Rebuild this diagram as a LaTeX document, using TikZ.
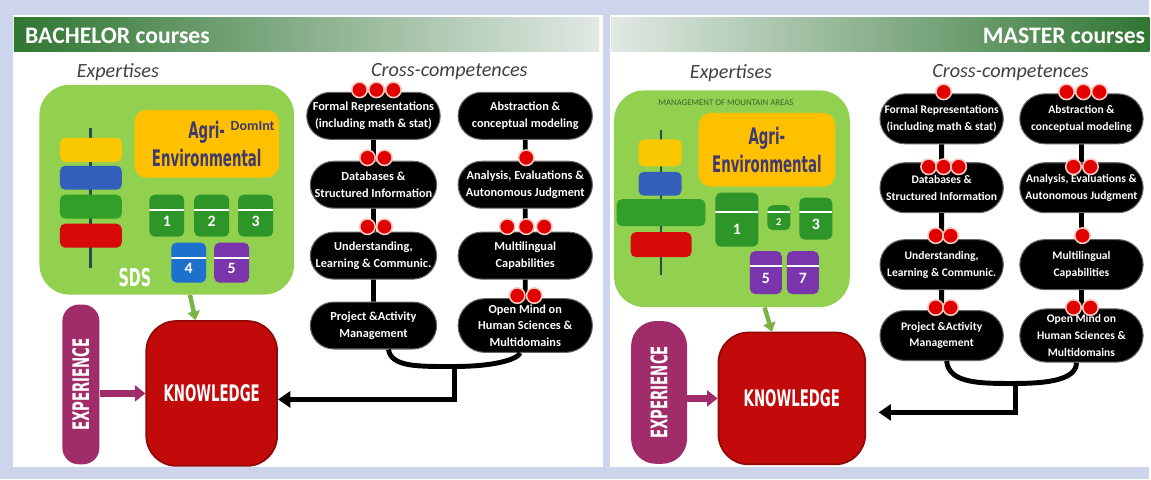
\documentclass[tikz,border=0pt]{standalone}
\usepackage{fontspec}
\setmainfont{Carlito}
\newfontfamily\impactfont{DejaVu Sans Condensed Bold}[FakeStretch=0.65]
\usepackage{xcolor}
\usepackage{tikz}
\usetikzlibrary{arrows.meta, positioning, shapes.misc}

\definecolor{pagebg}{RGB}{204,213,236}
\definecolor{bandark}{RGB}{48,118,50}
\definecolor{banlight}{RGB}{225,233,228}
\definecolor{expgreen}{RGB}{146,208,80}
\definecolor{agriyellow}{RGB}{255,192,0}
\definecolor{agritext}{RGB}{62,58,112}
\definecolor{tabgreen}{RGB}{46,150,40}
\definecolor{tabblue}{RGB}{30,112,205}
\definecolor{tabpurple}{RGB}{122,52,172}
\definecolor{baryellow}{RGB}{250,200,0}
\definecolor{barblue}{RGB}{52,96,188}
\definecolor{bargreen}{RGB}{50,160,40}
\definecolor{barred}{RGB}{215,10,10}
\definecolor{spinegray}{RGB}{45,75,75}
\definecolor{dotred}{RGB}{225,0,0}
\definecolor{dotring}{RGB}{250,200,190}
\definecolor{expurple}{RGB}{160,45,105}
\definecolor{knowred}{RGB}{195,10,10}
\definecolor{headgray}{RGB}{64,64,70}
\definecolor{mgmtgreen}{RGB}{55,105,40}

\begin{document}
\begin{tikzpicture}[x=0.02cm, y=-0.02cm,
    every node/.style={font=\small},
    pill/.style={rounded rectangle, fill=black, draw=black!60, line width=0.6pt, text=white, align=center,
        minimum height=0.94cm, inner xsep=1pt, font=\fontsize{7}{9.5}\selectfont\bfseries},
    mpill/.style={pill, minimum width=2.54cm, minimum height=1cm, font=\fontsize{6.6}{9.5}\selectfont\bfseries},
    reddot/.style={circle, fill=dotred, draw=dotring, line width=0.9pt, minimum size=0.31cm, inner sep=0pt},
    link/.style={line width=2.8pt, black},
    heading/.style={text=headgray, font=\fontsize{11.5}{13}\selectfont\itshape},
    expbox/.style={fill=expgreen, rounded corners=0.6cm},
    agribox/.style={fill=agriyellow, rounded corners=0.25cm, text=agritext, align=center,
        font=\impactfont\fontsize{13}{16}\selectfont},
    bar/.style={rounded corners=3pt, minimum height=0.48cm, inner sep=0pt},
    tab/.style={rounded corners=3pt, text=white, inner sep=0pt, text height=0.42cm,
        font=\bfseries\fontsize{9}{9}\selectfont,
        path picture={\draw[white, line width=1pt]
            ([yshift=-#1]path picture bounding box.north west) --
            ([yshift=-#1]path picture bounding box.north east);}},
    bigword/.style={text=white, font=\impactfont\fontsize{13}{15}\selectfont},
    expr/.style={fill=expurple, rounded corners=0.33cm, inner sep=0pt},
    know/.style={fill=knowred, draw=knowred!75!black, line width=1pt, rounded corners=0.6cm},
    down/.style={draw=expgreen!85!black, line width=2.5pt, -{Triangle[length=5pt, width=7pt]}},
    into/.style={draw=expurple, line width=3.5pt, -{Triangle[length=6pt, width=9pt]}}]

    % Page and panels
    \fill[pagebg] (0,0) rectangle (1151,480);
    \fill[white] (13,15) rectangle (604,468);
    \fill[white] (611,15) rectangle (1151,468);
    \shade[left color=bandark, right color=banlight] (14,18) rectangle (600,52);
    \shade[left color=banlight, right color=bandark] (612,18) rectangle (1151,52);
    \node[anchor=west, text=white, font=\bfseries\fontsize{13.5}{15}\selectfont] (bachelor) at (19,36) {BACHELOR courses};
    \node[anchor=east, text=white, font=\bfseries\fontsize{13.5}{15}\selectfont] (master) at (1153,36) {MASTER courses};

    % ---------------- BACHELOR ----------------
    \node[heading] (bexphead) at (118,72) {Expertises};
    \node[heading] (bcrosshead) at (450,72) {Cross-competences};

    % Expertise block
    \node[expbox, minimum width=5.1cm, minimum height=4.2cm] (bexp) at (167,190) {};
    \draw[spinegray, line width=1.6pt] (91,128) -- (91,268);
    \node[bar, fill=baryellow, minimum width=1.24cm] (bbar1) at (91,150) {};
    \node[bar, fill=barblue, minimum width=1.24cm] (bbar2) at (91,178) {};
    \node[bar, fill=bargreen, minimum width=1.24cm] (bbar3) at (91,207) {};
    \node[bar, fill=barred, minimum width=1.24cm] (bbar4) at (91,236) {};
    \node[agribox, minimum width=2.9cm, minimum height=1.36cm] (bagri) at (207,144) {Agri-\\Environmental};
    \node[text=agritext, font=\bfseries\fontsize{8}{9}\selectfont] (bdomint) at (253,126) {DomInt};
    \node[tab=0.3cm, fill=tabgreen, minimum width=0.7cm, minimum height=0.84cm] (btab1) at (167,216) {1};
    \node[tab=0.3cm, fill=tabgreen, minimum width=0.7cm, minimum height=0.84cm] (btab2) at (212,216) {2};
    \node[tab=0.3cm, fill=tabgreen, minimum width=0.7cm, minimum height=0.84cm] (btab3) at (256,216) {3};
    \node[tab=0.3cm, fill=tabblue, minimum width=0.7cm, minimum height=0.8cm] (btab4) at (189,263) {4};
    \node[tab=0.3cm, fill=tabpurple, minimum width=0.7cm, minimum height=0.8cm] (btab5) at (232,263) {5};
    \node[bigword, font=\impactfont\fontsize{14}{15}\selectfont] (bsds) at (135,278) {SDS};

    % Experience and knowledge
    \node[expr, minimum width=0.74cm, minimum height=3.2cm] (bexpr) at (81,385) {\rotatebox{90}{\impactfont\fontsize{13}{15}\selectfont\color{white}EXPERIENCE}};
    \node[know, minimum width=2.62cm, minimum height=2.9cm] (bknow) at (212,394) {};
    \node[bigword] (bknowtxt) at (bknow) {KNOWLEDGE};
    \draw[down] (bexp) -- (bknow);
    \draw[into] (bexpr.east |- bknow) -- (bknow.west);

    % Cross-competences
    \node[pill, minimum width=2.6cm] (bformal) at (374,116) {Formal Representations\\(including math \& stat)};
    \node[pill, minimum width=2.6cm] (bdata) at (374,185) {Databases \&\\Structured Information};
    \node[pill, minimum width=2.6cm] (bunder) at (374,256) {Understanding,\\Learning \& Communic.};
    \node[pill, minimum width=2.6cm] (bproj) at (374,326) {Project \&Activity\\Management};
    \node[pill, minimum width=2.76cm] (babstr) at (526,116) {Abstraction \&\\conceptual modeling};
    \node[pill, minimum width=2.76cm] (banaly) at (526,185) {Analysis, Evaluations \&\\Autonomous Judgment};
    \node[pill, minimum width=2.76cm] (bmulti) at (526,256) {Multilingual\\Capabilities};
    \node[pill, minimum width=2.76cm] (bopen) at (526,326) {Open Mind on\\Human Sciences \&\\Multidomains};
    \draw[link] (bformal) -- (bdata);
    \draw[link] (bdata) -- (bunder);
    \draw[link] (bunder) -- (bproj);
    \draw[link] (babstr) -- (banaly);
    \draw[link] (banaly) -- (bmulti);
    \draw[link] (bmulti) -- (bopen);
    \foreach \x [count=\k] in {360,377,394} \node[reddot] (bformal-d\k) at (\x,90) {};
    \foreach \x [count=\k] in {368,385} \node[reddot] (bdata-d\k) at (\x,158) {};
    \foreach \x [count=\k] in {368,385} \node[reddot] (bunder-d\k) at (\x,227) {};
    \node[reddot] (banaly-d1) at (527,158) {};
    \foreach \x [count=\k] in {508,527,545} \node[reddot] (bmulti-d\k) at (\x,227) {};
    \foreach \x [count=\k] in {518,535} \node[reddot] (bopen-d\k) at (\x,296) {};

    % Back to knowledge
    \coordinate (bjoin) at (455,367);
    \draw[link] ([xshift=0.3cm]bproj.south) .. controls (392,368) and (420,367) .. (bjoin) .. controls (495,367) and (518,360) .. ([xshift=-0.1cm]bopen.south);
    \draw[link, -{Triangle[length=7pt, width=9pt]}] (bjoin) |- ([yshift=-0.12cm]bknow.east);

    % ---------------- MASTER ----------------
    \node[heading] (mexphead) at (732,73) {Expertises};
    \node[heading] (mcrosshead) at (1012,73) {Cross-competences};

    % Expertise block
    \node[expbox, minimum width=4.72cm, minimum height=4.34cm] (mexp) at (733,199) {};
    \node[text=mgmtgreen, font=\fontsize{5}{6}\selectfont] (mmgmt) at (727,103) {MANAGEMENT OF MOUNTAIN AREAS};
    \draw[spinegray, line width=1.6pt] (662,130) -- (662,275);
    \node[bar, fill=baryellow, minimum width=0.86cm, minimum height=0.54cm] (mbar1) at (661,153) {};
    \node[bar, fill=barblue, minimum width=0.86cm, minimum height=0.48cm] (mbar2) at (661,184) {};
    \node[bar, fill=bargreen, minimum width=1.78cm, minimum height=0.54cm] (mbar3) at (662,213) {};
    \node[bar, fill=barred, minimum width=1.22cm, minimum height=0.5cm] (mbar4) at (662,245) {};
    \node[agribox, minimum width=2.74cm, minimum height=1.48cm] (magri) at (768,150) {Agri-\\Environmental};
    \node[tab=0.38cm, fill=tabgreen, minimum width=0.86cm, minimum height=1.08cm, text height=0.6cm] (mtab1) at (738,220) {1};
    \node[tab=0.14cm, fill=tabgreen, minimum width=0.46cm, minimum height=0.5cm, text height=0.3cm, font=\bfseries\fontsize{6}{6}\selectfont] (mtab2) at (780,218) {2};
    \node[tab=0.28cm, fill=tabgreen, minimum width=0.66cm, minimum height=0.84cm] (mtab3) at (817,219) {3};
    \node[tab=0.3cm, fill=tabpurple, minimum width=0.64cm, minimum height=0.86cm] (mtab5) at (767,273) {5};
    \node[tab=0.3cm, fill=tabpurple, minimum width=0.64cm, minimum height=0.86cm] (mtab7) at (804,273) {7};

    % Experience and knowledge
    \node[expr, minimum width=1.12cm, minimum height=2.86cm, rounded corners=0.5cm] (mexpr) at (660,393) {\rotatebox{90}{\impactfont\fontsize{13}{15}\selectfont\color{white}EXPERIENCE}};
    \node[know, minimum width=2.94cm, minimum height=2.64cm] (mknow) at (793,399) {};
    \node[bigword] (mknowtxt) at (mknow) {KNOWLEDGE};
    \draw[down] (mexp) -- (mknow);
    \draw[into] (mexpr.east |- mknow) -- (mknow.west);

    % Cross-competences
    \node[mpill] (mformal) at (943,119) {Formal Representations\\(including math \& stat)};
    \node[mpill] (mdata) at (943,188) {Databases \&\\Structured Information};
    \node[mpill] (munder) at (943,265) {Understanding,\\Learning \& Communic.};
    \node[mpill] (mproj) at (943,336) {Project \&Activity\\Management};
    \node[mpill] (mabstr) at (1083,119) {Abstraction \&\\conceptual modeling};
    \node[mpill] (manaly) at (1083,188) {Analysis, Evaluations \&\\Autonomous Judgment};
    \node[mpill] (mmulti) at (1083,265) {Multilingual\\Capabilities};
    \node[mpill] (mopen) at (1083,336) {Open Mind on\\Human Sciences \&\\Multidomains};
    \draw[link] (mformal) -- (mdata);
    \draw[link] (mdata) -- (munder);
    \draw[link] (munder) -- (mproj);
    \draw[link] (mabstr) -- (manaly);
    \draw[link] (manaly) -- (mmulti);
    \draw[link] (mmulti) -- (mopen);
    \node[reddot] (mformal-d1) at (945,92) {};
    \foreach \x [count=\k] in {1068,1085,1101} \node[reddot] (mabstr-d\k) at (\x,92) {};
    \foreach \x [count=\k] in {930,945,960} \node[reddot] (mdata-d\k) at (\x,167) {};
    \foreach \x [count=\k] in {1075,1092} \node[reddot] (manaly-d\k) at (\x,167) {};
    \foreach \x [count=\k] in {937,952} \node[reddot] (munder-d\k) at (\x,236) {};
    \node[reddot] (mmulti-d1) at (1084,236) {};
    \foreach \x [count=\k] in {937,952} \node[reddot] (mproj-d\k) at (\x,308) {};
    \foreach \x [count=\k] in {1075,1092} \node[reddot] (mopen-d\k) at (\x,308) {};

    % Back to knowledge
    \coordinate (mjoin) at (1017,384);
    \draw[link] ([xshift=0.1cm]mproj.south) .. controls (950,385) and (985,384) .. (mjoin) .. controls (1050,384) and (1078,380) .. ([xshift=-0.1cm]mopen.south);
    \draw[link, -{Triangle[length=7pt, width=9pt]}, shorten >=0.25cm] (mjoin) |- ([yshift=-0.28cm]mknow.east);
\end{tikzpicture}
\end{document}
